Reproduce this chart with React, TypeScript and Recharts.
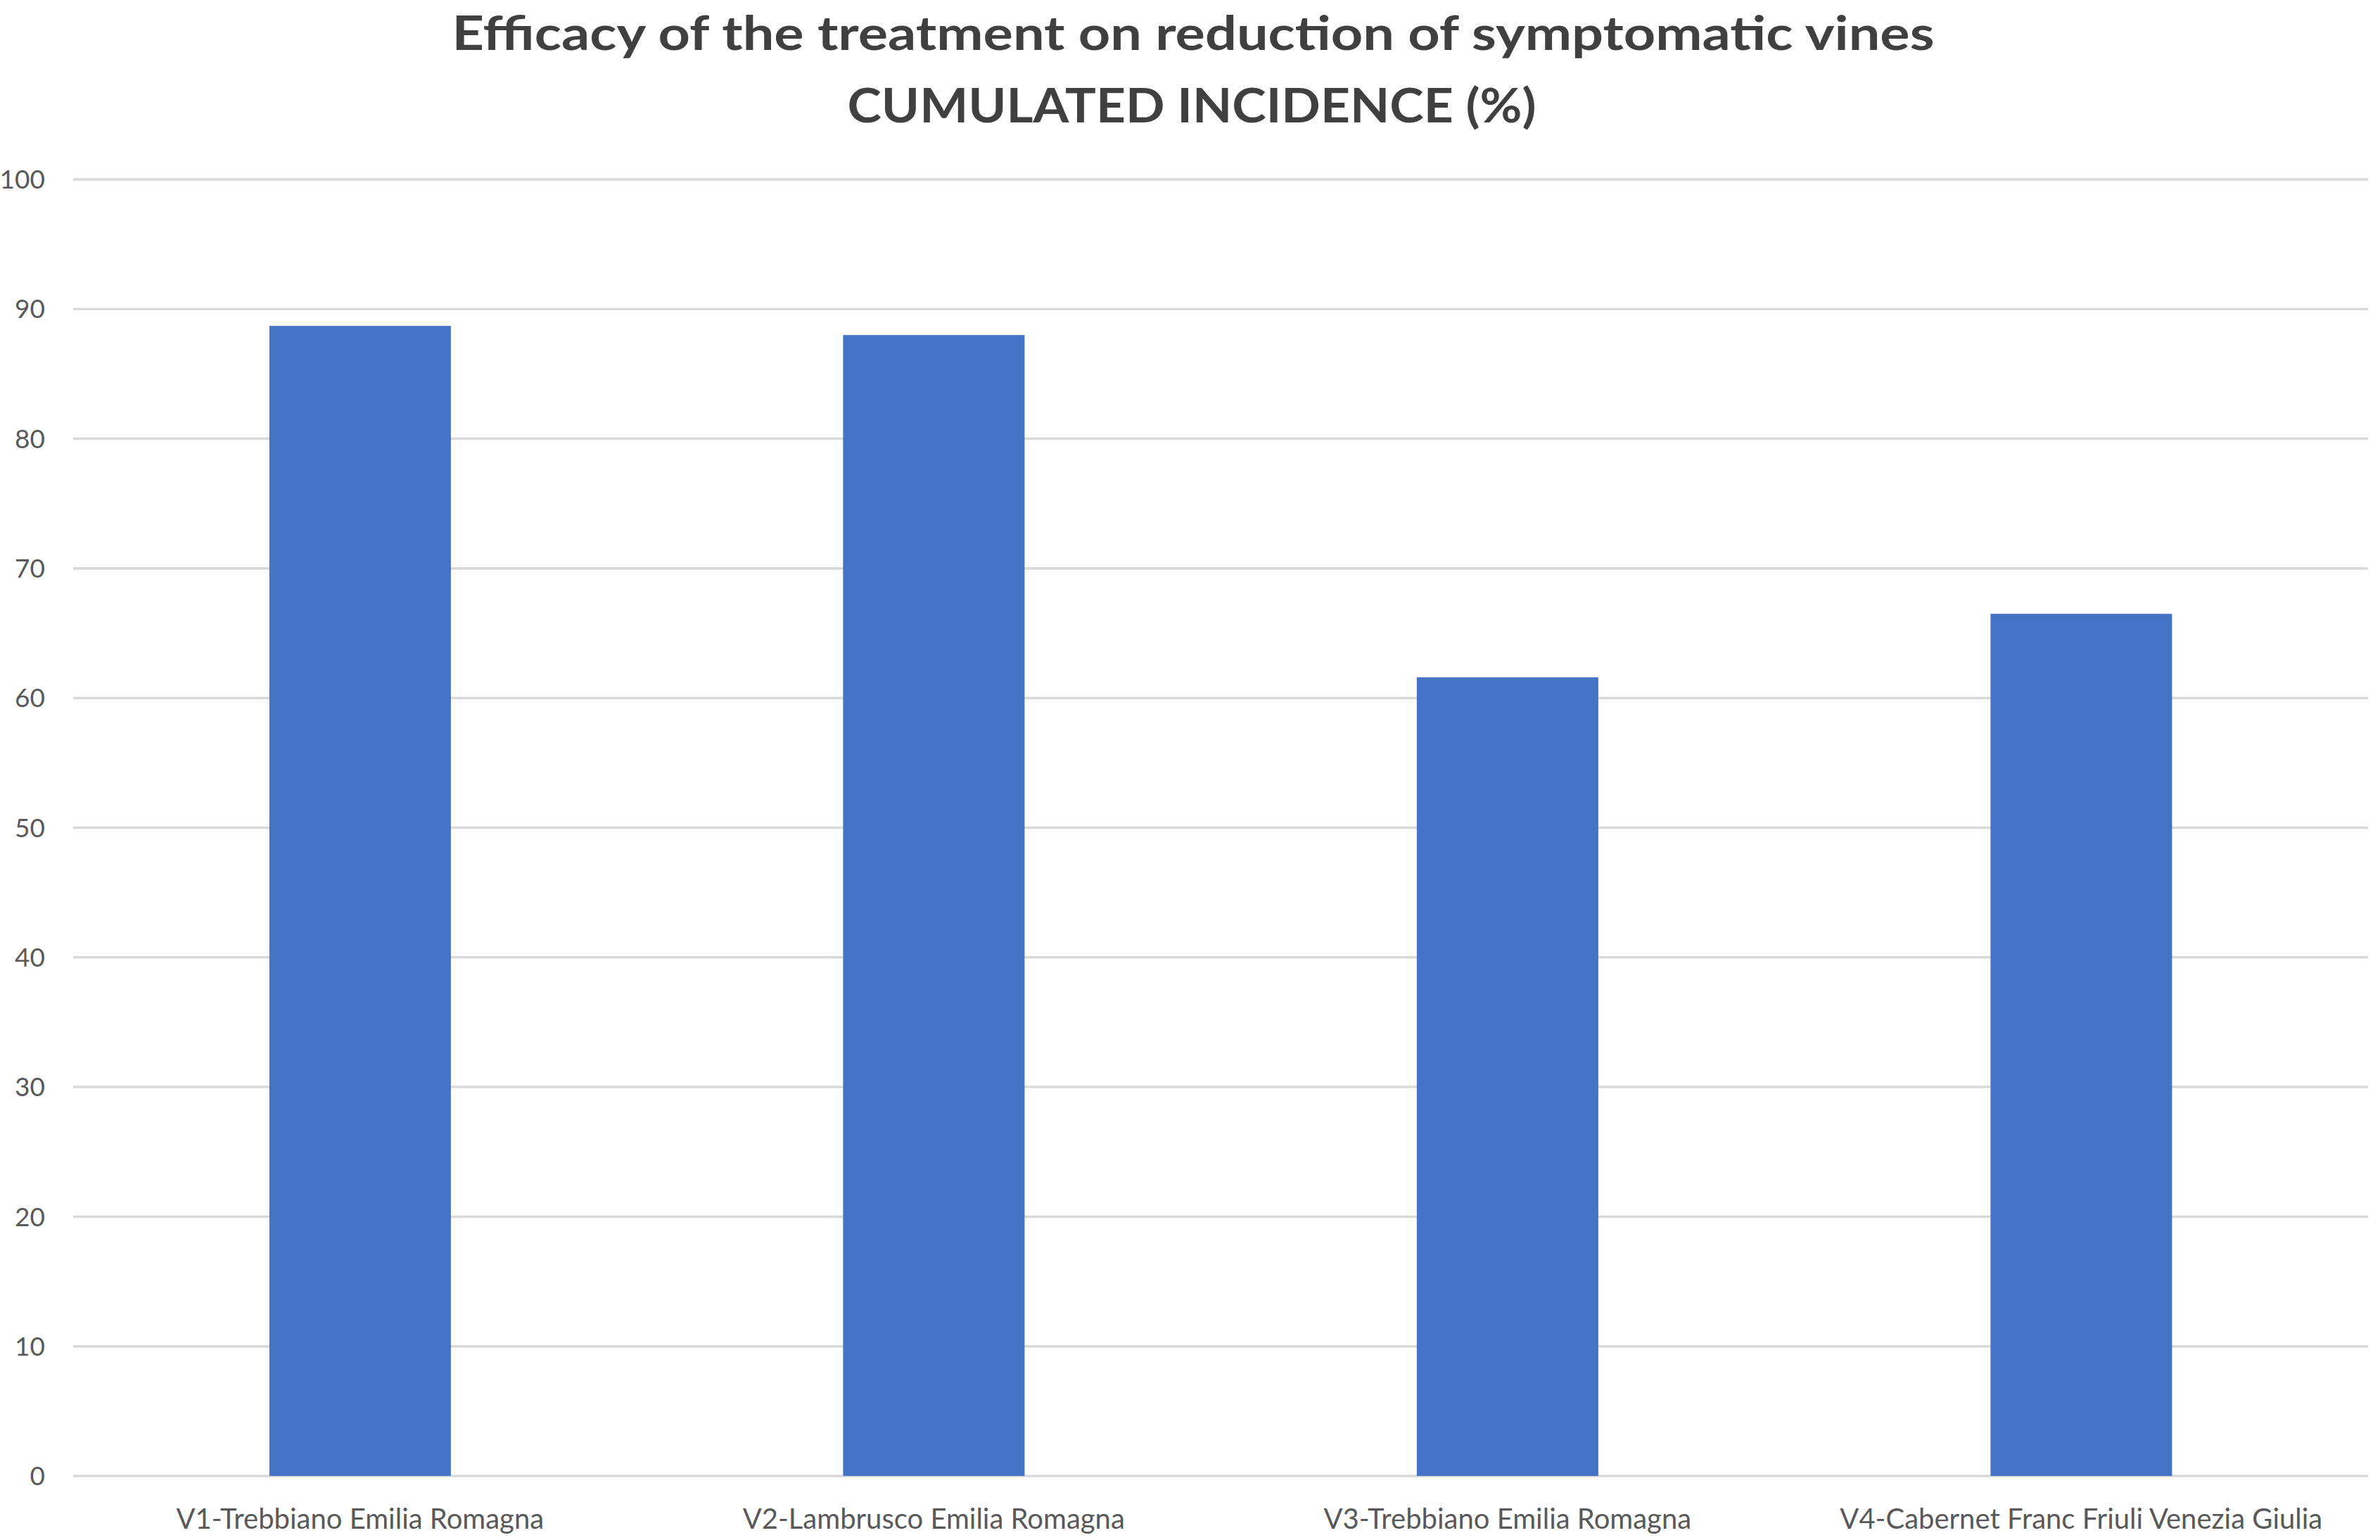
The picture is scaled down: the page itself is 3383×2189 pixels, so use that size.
import React from 'react';
import { BarChart, Bar, XAxis, YAxis, CartesianGrid } from 'recharts';

const categories = [
  'V1-Trebbiano Emilia Romagna',
  'V2-Lambrusco Emilia Romagna',
  'V3-Trebbiano Emilia Romagna',
  'V4-Cabernet Franc Friuli Venezia Giulia',
];
const incidence = [88.7, 88.0, 61.6, 66.5];
const yTicks = [0, 10, 20, 30, 40, 50, 60, 70, 80, 90, 100];
const titleLine1 = 'Efficacy of the treatment on reduction of symptomatic vines';
const titleLine2 = 'CUMULATED INCIDENCE (%)';

const data = categories.map((name, i) => ({ name, value: incidence[i] }));

const FONT = 'Lato, "Open Sans", sans-serif';

export default function App() {
  return (
    <div style={{ position: 'absolute', left: 0, top: 0, width: 3383, height: 2189, background: '#ffffff' }}>
      <svg
        width={3383}
        height={220}
        style={{ position: 'absolute', left: 0, top: 0 }}
      >
        <text
          x={1696}
          y={71}
          textAnchor="middle"
          fontFamily={FONT}
          fontWeight={700}
          fontSize={67}
          fill="#404040"
          textLength={2107}
          lengthAdjust="spacingAndGlyphs"
        >
          {titleLine1}
        </text>
        <text
          x={1694}
          y={174}
          textAnchor="middle"
          fontFamily={FONT}
          fontWeight={700}
          fontSize={67}
          fill="#404040"
          textLength={979}
          lengthAdjust="spacingAndGlyphs"
        >
          {titleLine2}
        </text>
      </svg>
      <div style={{ position: 'absolute', left: 0, top: 0 }}>
        <BarChart
          width={3383}
          height={2189}
          data={data}
          margin={{ top: 255, right: 17, bottom: 0, left: 0 }}
          barCategoryGap="34.2%"
        >
          <CartesianGrid
            vertical={false}
            stroke="#d9d9d9"
            strokeWidth={3.5}
          />
          <XAxis
            dataKey="name"
            height={91}
            axisLine={false}
            tickLine={false}
            tickSize={0}
            tickMargin={47}
            interval={0}
            tick={{ fill: '#595959', fontSize: 40, fontFamily: FONT }}
          />
          <YAxis
            width={104}
            domain={[0, 100]}
            ticks={yTicks}
            axisLine={false}
            tickLine={false}
            tickSize={0}
            tickMargin={40}
            tick={{ fill: '#595959', fontSize: 37, fontFamily: FONT }}
          />
          <Bar dataKey="value" fill="#4472c4" isAnimationActive={false} />
        </BarChart>
      </div>
    </div>
  );
}
